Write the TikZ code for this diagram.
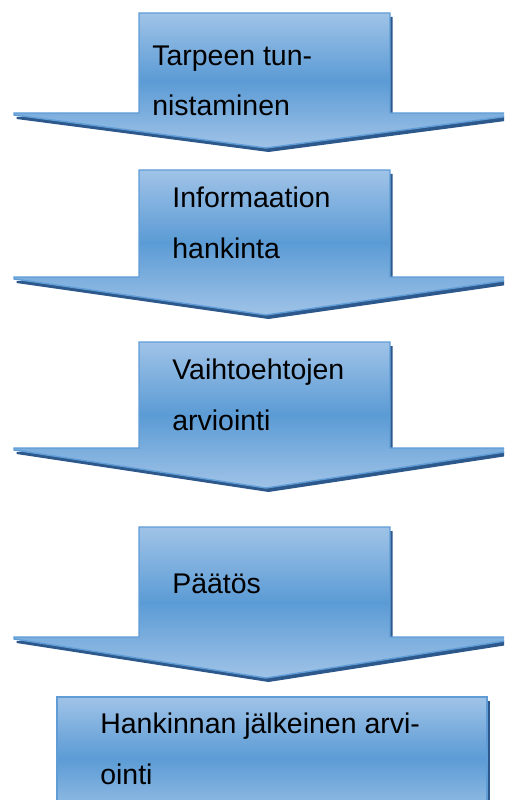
\documentclass[tikz,border=0pt]{standalone}
\usepackage{fontspec}
\setmainfont{Liberation Sans}
\tikzset{
  stagearrow/.style={draw=edgeblue, line width=0.8pt, line join=miter,
    top color=lightblue, bottom color=lightblue, middle color=midblue,
    preaction={fill=shadowblue, transform canvas={shift={(2.5,-4)}}}},
  stagetext/.style={anchor=base west, inner sep=0pt, align=left,
    font=\fontsize{16.2}{28.7}\selectfont}
}
\begin{document}
\begin{tikzpicture}[x=0.02cm, y=0.02cm]
        \definecolor{lightblue}{RGB}{160,195,231}
        \definecolor{midblue}{RGB}{91,155,213}
        \definecolor{edgeblue}{RGB}{96,157,215}
        \definecolor{shadowblue}{RGB}{44,88,140}

        \useasboundingbox (0,0) rectangle (504,-800);
        \clip (0,0) rectangle (504,-800);

        % stage arrows
        \draw[stagearrow] (139,-13) -- (390,-13) -- (390,-113) -- (518,-113) -- (518,-115)
            -- (266,-148) -- (14,-115) -- (14,-113) -- (139,-113) -- cycle;
        \node[stagetext] (tarve) at (152,-116) {Tarpeen tun-\\nistaminen};

        \draw[stagearrow] (139,-170) -- (390,-170) -- (390,-277) -- (518,-277) -- (518,-279)
            -- (266,-315) -- (14,-279) -- (14,-277) -- (139,-277) -- cycle;
        \node[stagetext] (info) at (172,-258) {Informaation\\hankinta};

        \draw[stagearrow] (139,-342) -- (390,-342) -- (390,-448) -- (518,-448) -- (518,-450)
            -- (266,-488) -- (14,-450) -- (14,-448) -- (139,-448) -- cycle;
        \node[stagetext] (vaihto) at (172,-430) {Vaihtoehtojen\\arviointi};

        \draw[stagearrow] (139,-527) -- (390,-527) -- (390,-637) -- (518,-637) -- (518,-639)
            -- (266,-678) -- (14,-639) -- (14,-637) -- (139,-637) -- cycle;
        \node[stagetext] (paatos) at (172,-593) {Päätös};

        % last stage
        \draw[stagearrow] (57,-697) rectangle (487,-820);
        \node[stagetext] (arvio) at (100,-784) {Hankinnan jälkeinen arvi-\\ointi};
\end{tikzpicture}
\end{document}
